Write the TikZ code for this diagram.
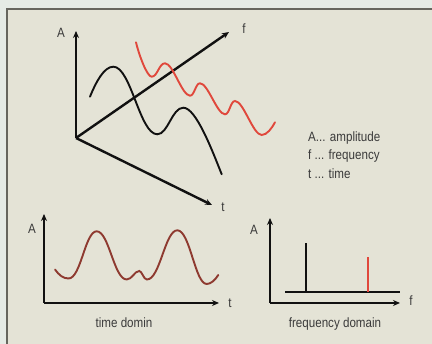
\documentclass[tikz,border=0pt]{standalone}
\usepackage{fontspec}
\setmainfont[FakeStretch=0.86]{Liberation Sans}
\usetikzlibrary{arrows.meta}
\definecolor{outerbg}{HTML}{E5EBE5}
\definecolor{panelbg}{HTML}{E4E3D6}
\definecolor{framecol}{HTML}{66665E}
\definecolor{txtcol}{HTML}{3A3A3A}
\definecolor{redc}{HTML}{E0483C}
\definecolor{brownc}{HTML}{8E3A30}
\definecolor{axiscol}{HTML}{111111}
\tikzset{
  axis/.style={line width=2.4pt, color=axiscol, -{Stealth[length=7pt,width=6pt]}},
  curve/.style={line width=1.9pt, line cap=round},
  lbl/.style={text=txtcol, font=\fontsize{13.5}{16}\selectfont, inner sep=0pt},
  spike/.style={line width=2.2pt}
}
\begin{document}
\begin{tikzpicture}[x=1pt,y=-1pt]
\useasboundingbox (0,0) rectangle (432,344);
\fill[outerbg] (0,0) rectangle (432,344);
\fill[panelbg] (7,9) rectangle (432,344);
\draw[framecol, line width=2pt] (7,344) -- (7,9) -- (432,9);
% 3D axes
\coordinate (O) at (76,138);
\coordinate (Atop) at (76,31);
\coordinate (Fend) at (229,32);
\coordinate (Tend) at (212,205);
\draw[axis] (O) -- (Atop);
\draw[axis] (O) -- (Fend);
\draw[axis] (O) -- (Tend);
\node[lbl] (la) at (61,33) {A};
\node[lbl] (lf) at (244,29) {f};
\node[lbl] (lt) at (223,207) {t};
% black curve
\draw[curve, axiscol] (90,96.7) .. controls (96,82) and (104,66.7) .. (113.3,66.7)
  .. controls (131,66.7) and (139.7,134.3) .. (157.3,134.3)
  .. controls (168,134.3) and (172,107.7) .. (183.3,107.7)
  .. controls (196,107.7) and (212,150) .. (221.7,174.3);
% red curve
\draw[curve, redc] (136,42.3) .. controls (139,55) and (147,76.7) .. (151.7,76.7)
  .. controls (157.5,76.7) and (159,63.3) .. (165,63.3)
  .. controls (173,63.3) and (182,95.7) .. (190,95.7)
  .. controls (194.5,95.7) and (195.5,83.3) .. (200,83.3)
  .. controls (208,83.3) and (217,114.3) .. (225,114.3)
  .. controls (229.5,114.3) and (230.5,101) .. (235,101)
  .. controls (243.5,101) and (253,135) .. (261.7,135)
  .. controls (267,135) and (272,128) .. (275,122.3);
% legend
\node[lbl, anchor=west] (leg1) at (308,138) {A... amplitude};
\node[lbl, anchor=west] (leg2) at (308,156) {f ... frequency};
\node[lbl, anchor=west] (leg3) at (308,174) {t ... time};
% time domain
\coordinate (O2) at (44,303);
\coordinate (A2) at (44,214);
\coordinate (T2) at (219,303);
\draw[axis] (O2) -- (A2);
\draw[axis] (O2) -- (T2);
\node[lbl] (la2) at (32,229) {A};
\node[lbl] (lt2) at (230,303) {t};
\draw[curve, brownc] (55,269.5) .. controls (59,275) and (63,278.5) .. (68.5,278.5)
  .. controls (81,278.5) and (85,231.3) .. (96.7,231.3)
  .. controls (109,231.3) and (114,279.5) .. (126.7,279.5)
  .. controls (132,279.5) and (134.5,271) .. (139.3,271)
  .. controls (142,271) and (143.5,279.5) .. (147,279.5)
  .. controls (160,279.5) and (165,230.3) .. (177.3,230.3)
  .. controls (190,230.3) and (195,284) .. (206.7,284)
  .. controls (211,284) and (215,280) .. (218.3,275);
\node[lbl] (tdom) at (124,323) {time domin};
% frequency domain
\coordinate (O3) at (270,303);
\coordinate (A3) at (270,218);
\coordinate (F3) at (400,303);
\draw[axis] (O3) -- (A3);
\draw[axis] (O3) -- (F3);
\node[lbl] (la3) at (254,230) {A};
\node[lbl] (lf3) at (411,301) {f};
\coordinate (B1) at (285,292);
\coordinate (B2) at (400,292);
\draw[spike, axiscol] (B1) -- (B2);
\coordinate (S1b) at (306,292);
\coordinate (S1t) at (306,243);
\coordinate (S2b) at (368,292);
\coordinate (S2t) at (368,257);
\draw[spike, axiscol] (S1b) -- (S1t);
\draw[spike, redc] (S2b) -- (S2t);
\node[lbl] (fdom) at (335,324) {frequency domain};
\end{tikzpicture}
\end{document}
